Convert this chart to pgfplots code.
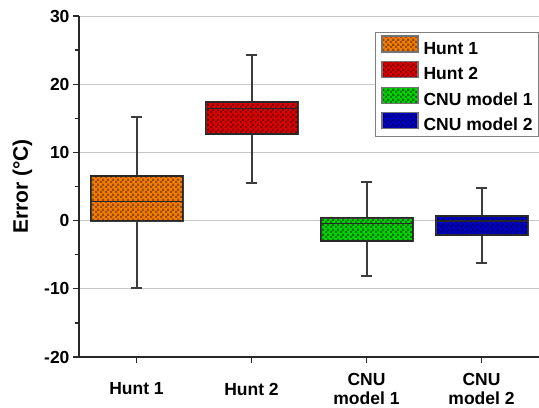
\documentclass[border=0pt]{standalone}
\usepackage{pgfplots}
\pgfplotsset{compat=1.18}
\usepgfplotslibrary{statistics}
\usetikzlibrary{patterns}
\usepackage{fontspec}
\setmainfont{Liberation Sans}
\definecolor{cA}{RGB}{245,125,0}
\definecolor{cAd}{RGB}{150,75,0}
\definecolor{cB}{RGB}{225,0,0}
\definecolor{cBd}{RGB}{130,0,0}
\definecolor{cC}{RGB}{0,215,0}
\definecolor{cCd}{RGB}{0,115,0}
\definecolor{cD}{RGB}{0,0,205}
\definecolor{cDd}{RGB}{0,0,115}
\definecolor{boxline}{RGB}{40,40,40}
\definecolor{whisk}{RGB}{60,60,60}
\pgfdeclarepatternformonly{checker}{\pgfpointorigin}{\pgfpoint{5pt}{5pt}}{\pgfpoint{5pt}{5pt}}{%
  \pgfpathrectangle{\pgfpointorigin}{\pgfpoint{2.5pt}{2.5pt}}%
  \pgfpathrectangle{\pgfpoint{2.5pt}{2.5pt}}{\pgfpoint{2.5pt}{2.5pt}}%
  \pgfusepath{fill}}
\pgfplotsset{bx/.style 2 args={/tikz/draw=whisk, /tikz/line width=2pt, boxplot/every box/.style={preaction={fill=#1}, preaction={pattern=checker, pattern color=#2}, /tikz/draw=boxline, /tikz/line width=1.5pt}},
  legpatch/.style={legend image code/.code={\draw[##1] (0pt,-3pt) rectangle (36pt,13pt);}}}
\begin{document}
\begin{tikzpicture}
\begin{axis}[
  scale only axis, width=460pt, height=341pt,
  xmin=-0.5, xmax=3.5, ymin=-20, ymax=30,
  axis x line*=bottom, axis y line*=left,
  axis line style={-, draw=boxline, line width=1.3pt},
  xtick={0,1,2,3},
  xticklabels={Hunt 1, Hunt 2, CNU\\model 1, CNU\\model 2},
  xticklabel style={align=center, anchor=center, yshift=-26pt},
  ytick={-20,-10,0,10,20,30},
  yticklabels={-20,-10,0,10,20,30},
  minor ytick={-15,-5,5,15,25},
  tick align=outside,
  major tick length=6pt, minor tick length=3.5pt,
  tick style={draw=boxline, line width=1.3pt},
  ymajorgrids, major grid style={draw=black!22, line width=0.9pt},
  ticklabel style={font=\bfseries\fontsize{17.5}{19.5}\selectfont},
  ylabel={\bfseries Error (°C)},
  ylabel style={font=\bfseries\fontsize{21}{24}\selectfont, yshift=5pt},
  legend style={at={(1,1)}, anchor=north east, yshift=-16pt, xshift=0pt,
    draw=black!50, line width=1pt, fill=white,
    font=\bfseries\fontsize{17.5}{20}\selectfont,
    nodes={inner sep=0pt, text height=13pt, text depth=3pt, anchor=west},
    row sep=4pt, inner xsep=6pt, inner ysep=3pt,
    /tikz/column 1/.style={column sep=5pt}},
  legend cell align=left,
  boxplot/draw direction=y,
  boxplot/box extend=0.8, boxplot/whisker extend=0.1,
  boxplot/every whisker/.style={/tikz/draw=whisk, /tikz/line width=2pt},
  boxplot/every median/.style={/tikz/draw=boxline, /tikz/line width=1.5pt},
]
\addplot[forget plot, bx={cA}{cAd}, boxplot prepared={lower whisker=-9.87, lower quartile=0, median=2.8, upper quartile=6.55, upper whisker=15.25, draw position=0}] coordinates {};
\addplot[forget plot, bx={cB}{cBd}, boxplot prepared={lower whisker=5.57, lower quartile=12.67, median=16.4, upper quartile=17.4, upper whisker=24.3, draw position=1}] coordinates {};
\addplot[forget plot, bx={cC}{cCd}, boxplot prepared={lower whisker=-8.1, lower quartile=-3.0, median=-0.39, upper quartile=0.44, upper whisker=5.72, draw position=2}] coordinates {};
\addplot[forget plot, bx={cD}{cDd}, boxplot prepared={lower whisker=-6.25, lower quartile=-2.14, median=-0.05, upper quartile=0.69, upper whisker=4.84, draw position=3}] coordinates {};
\addlegendimage{legpatch, preaction={fill=cA}, preaction={pattern=checker, pattern color=cAd}, draw=black!55, line width=1.2pt}
\addlegendentry{Hunt 1}
\addlegendimage{legpatch, preaction={fill=cB}, preaction={pattern=checker, pattern color=cBd}, draw=black!55, line width=1.2pt}
\addlegendentry{Hunt 2}
\addlegendimage{legpatch, preaction={fill=cC}, preaction={pattern=checker, pattern color=cCd}, draw=black!55, line width=1.2pt}
\addlegendentry{CNU model 1}
\addlegendimage{legpatch, preaction={fill=cD}, preaction={pattern=checker, pattern color=cDd}, draw=black!55, line width=1.2pt}
\addlegendentry{CNU model 2}
\end{axis}
\pgfresetboundingbox
\path ([xshift=-79pt,yshift=-51pt]current axis.south west) rectangle ([yshift=16pt]current axis.north east);
\end{tikzpicture}
\end{document}
